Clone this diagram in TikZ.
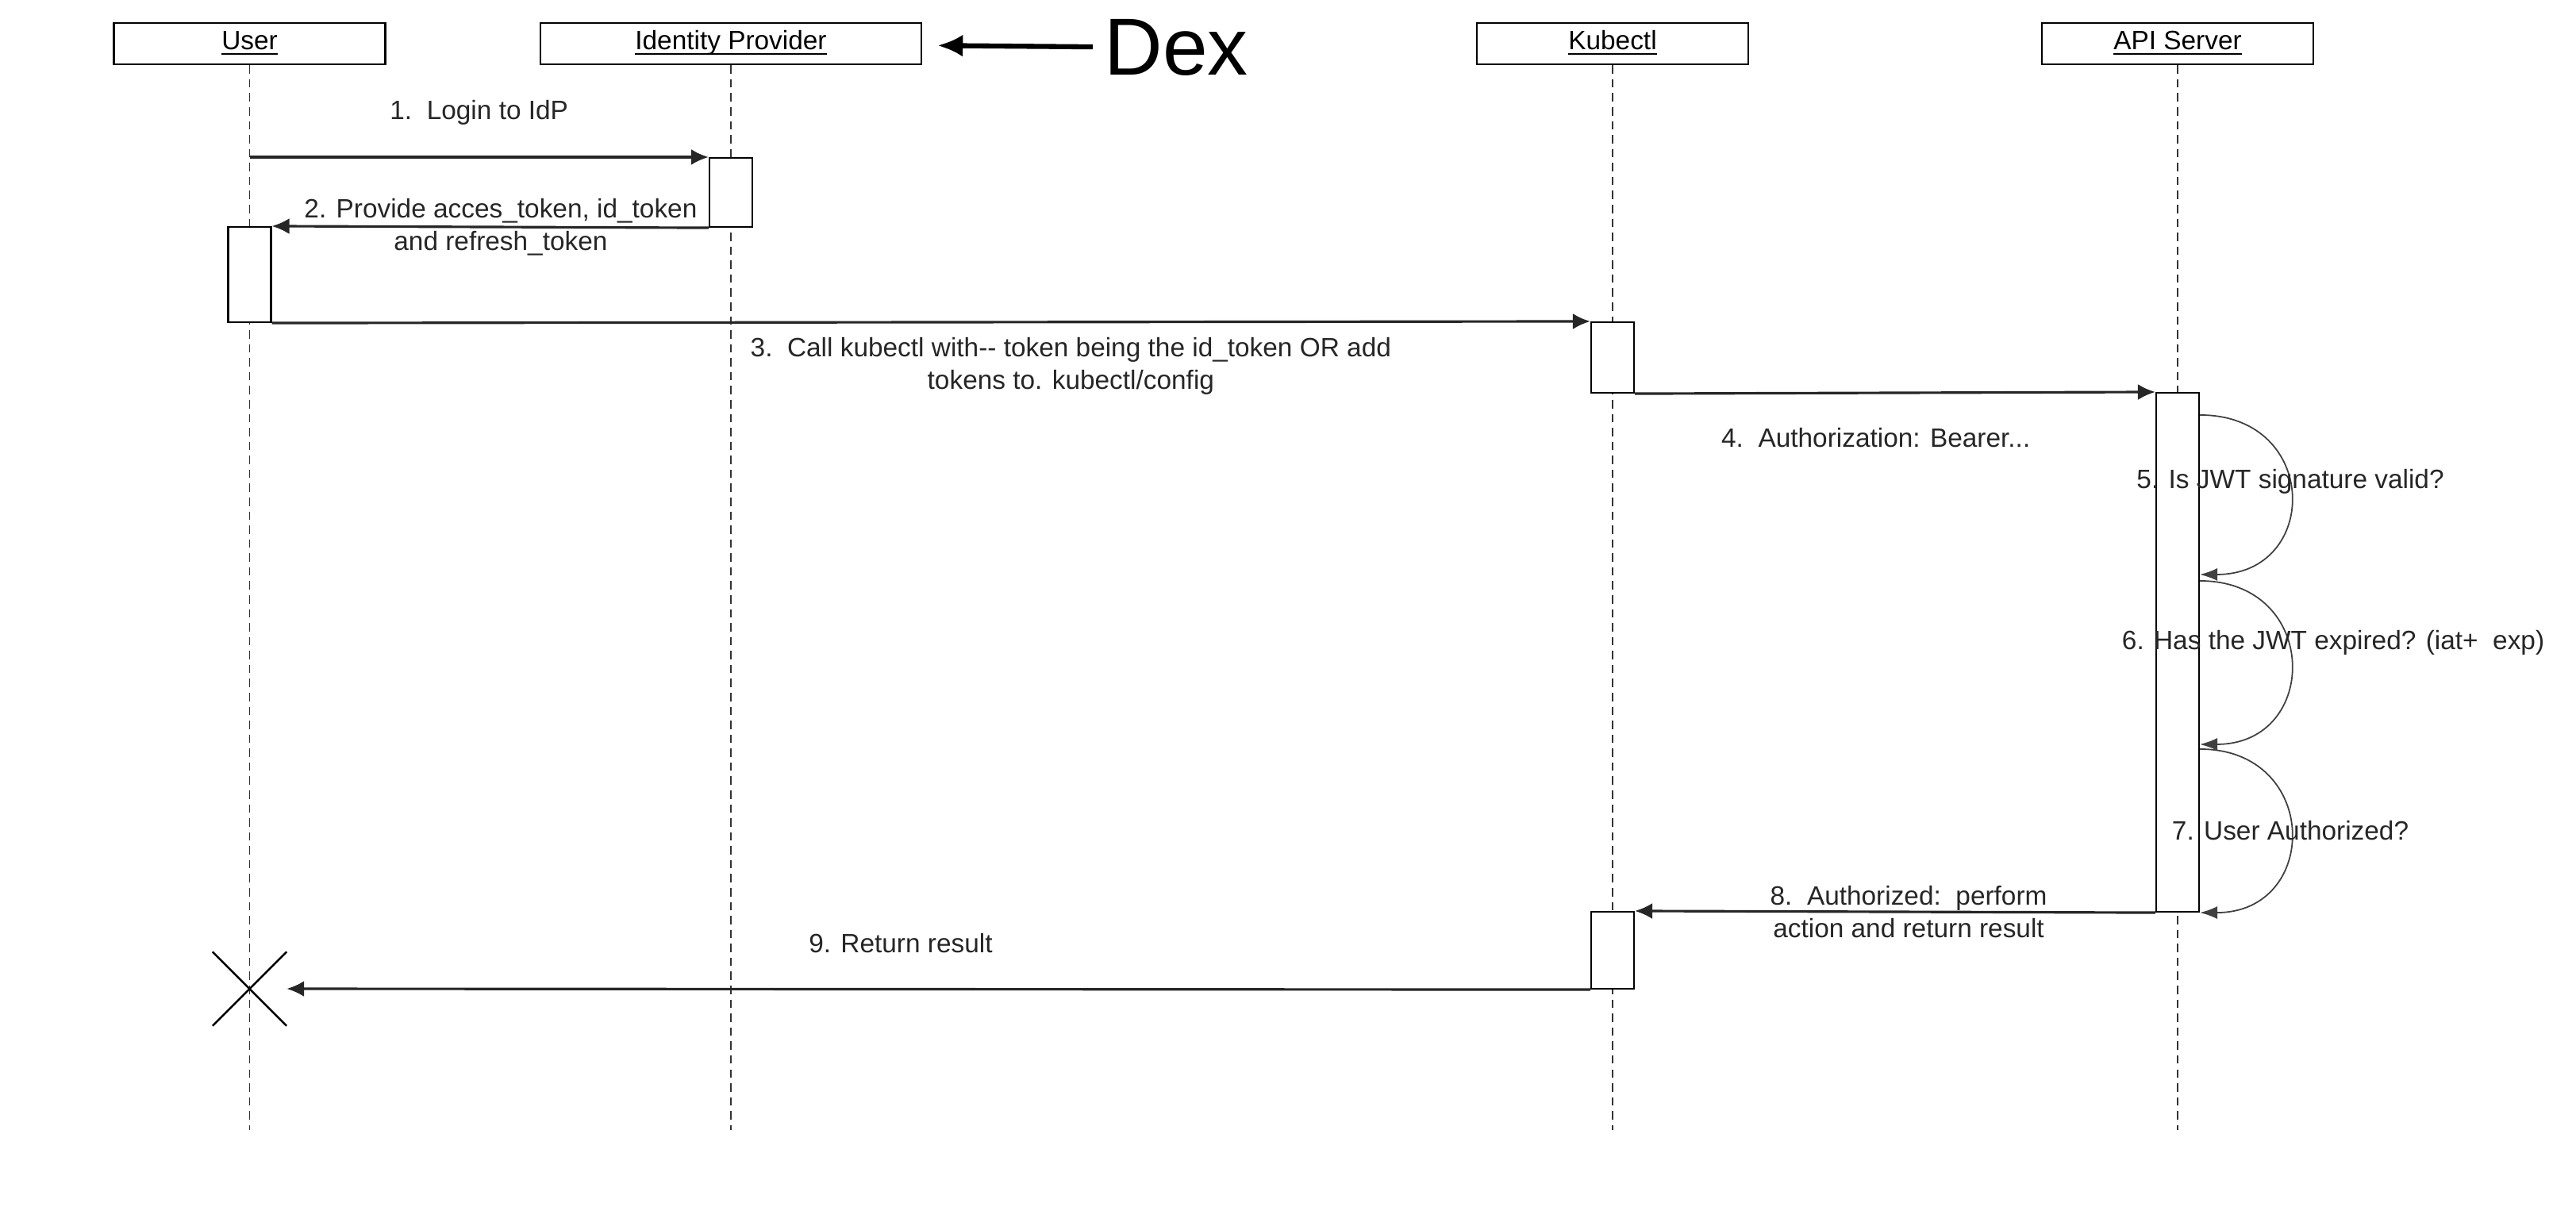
\documentclass[tikz,border=0pt]{standalone}
\usepackage{fontspec}
\setmainfont{Liberation Sans}
\usepackage{tikz}
\usetikzlibrary{arrows.meta,shapes.misc,positioning}

\newcommand{\headtext}[1]{\underline{\vphantom{U}\smash{#1}}}

\begin{document}
\begin{tikzpicture}[
  actor/.style={rectangle, draw, line width=0.7pt, minimum width=3.42cm, minimum height=0.52cm, inner sep=0pt, font=\fontsize{9.5}{11}\selectfont},
  lifeline/.style={draw=black!80, line width=0.5pt, dash pattern=on 3pt off 2pt},
  activation/.style={rectangle, draw, fill=white, line width=0.6pt, minimum width=0.54cm, inner sep=0pt},
  msg/.style={-{Latex[length=0.22cm,width=0.2cm]}, line width=0.9pt, draw=black!85},
  selfmsg/.style={-{Latex[length=0.22cm,width=0.16cm]}, line width=0.5pt, draw=black!75},
  lbl/.style={font=\fontsize{9.5}{11.6}\selectfont, text=black!85, align=center, inner sep=0pt}
]
\useasboundingbox (0,0) rectangle (32.46,-15.20);

% participants
\node[actor] (user) at (3.145,-0.55) {\headtext{User}};
\node[actor, minimum width=4.80cm] (idp) at (9.21,-0.55) {\headtext{Identity Provider}};
\node[actor] (kubectl) at (20.32,-0.55) {\headtext{Kubectl}};
\node[actor] (apiserver) at (27.44,-0.55) {\headtext{API Server}};

% Dex pointer
\node[font=\fontsize{29}{32}\selectfont, inner xsep=0.14cm, inner ysep=0pt, anchor=west] (dex) at (13.77,-0.60) {Dex};
\draw[-{Latex[length=0.32cm,width=0.28cm]}, line width=1.8pt, shorten >=0.19cm] (dex) -- (idp);

% lifelines
\coordinate (bottom) at (0,-14.24);
\draw[lifeline] (user.south) -- (user.south |- bottom);
\draw[lifeline] (idp.south) -- (idp.south |- bottom);
\draw[lifeline] (kubectl.south) -- (kubectl.south |- bottom);
\draw[lifeline] (apiserver.south) -- (apiserver.south |- bottom);

% activations
\node[activation, minimum height=0.87cm] (idpact) at (9.21,-2.425) {};
\node[activation, minimum height=1.20cm] (useract) at (3.145,-3.46) {};
\node[activation, minimum height=0.89cm] (kubact) at (20.32,-4.505) {};
\node[activation, minimum height=6.54cm] (apiact) at (27.44,-8.22) {};
\node[activation, minimum height=0.97cm] (kubret) at (20.32,-11.975) {};
\node[draw, cross out, minimum size=0.91cm, line width=0.7pt] (userx) at (3.145,-12.46) {};

% messages
\draw[msg] (user.south |- idpact.north west) -- (idpact.north west) node[lbl, midway, yshift=0.56cm] {1.\ \ Login to IdP};
\draw[msg] (idpact.south west) -- (useract.north east) node[lbl, pos=0.476] {2. Provide acces\_token, id\_token\\and refresh\_token};
\draw[msg] (useract.south east) -- (kubact.north west) node[lbl, pos=0.606, yshift=-0.555cm] {3.\ \ Call kubectl with-{}- token being the id\_token OR add\\tokens to. kubectl/config};
\draw[msg] (kubact.south east) -- (apiact.north west) node[lbl, pos=0.463, yshift=-0.56cm] {4.\ \ Authorization: Bearer...};

% checks on the API server
\draw[selfmsg] ([yshift=-0.29cm]apiact.north east) .. controls +(1.52,0) and +(1.52,0) .. ([yshift=-2.30cm]apiact.north east) node[lbl, pos=0.5, yshift=0.17cm] {5. Is JWT signature valid?};
\draw[selfmsg] ([yshift=-2.38cm]apiact.north east) .. controls +(1.52,0) and +(1.52,0) .. ([yshift=-4.44cm]apiact.north east) node[lbl, pos=0.5, xshift=0.54cm, yshift=0.25cm] {6. Has the JWT expired? (iat+\ \ exp)};
\draw[selfmsg] ([yshift=-4.50cm]apiact.north east) .. controls +(1.52,0) and +(1.52,0) .. (apiact.south east) node[lbl, pos=0.5] {7. User Authorized?};

\draw[msg] (apiact.south west) -- (kubret.north east) node[lbl, pos=0.474] {8.\ \ Authorized:\ \ perform\\action and return result};
\draw[msg] (kubret.south west) -- (userx.east) node[lbl, pos=0.529, yshift=0.58cm] {9. Return result};

\end{tikzpicture}
\end{document}
